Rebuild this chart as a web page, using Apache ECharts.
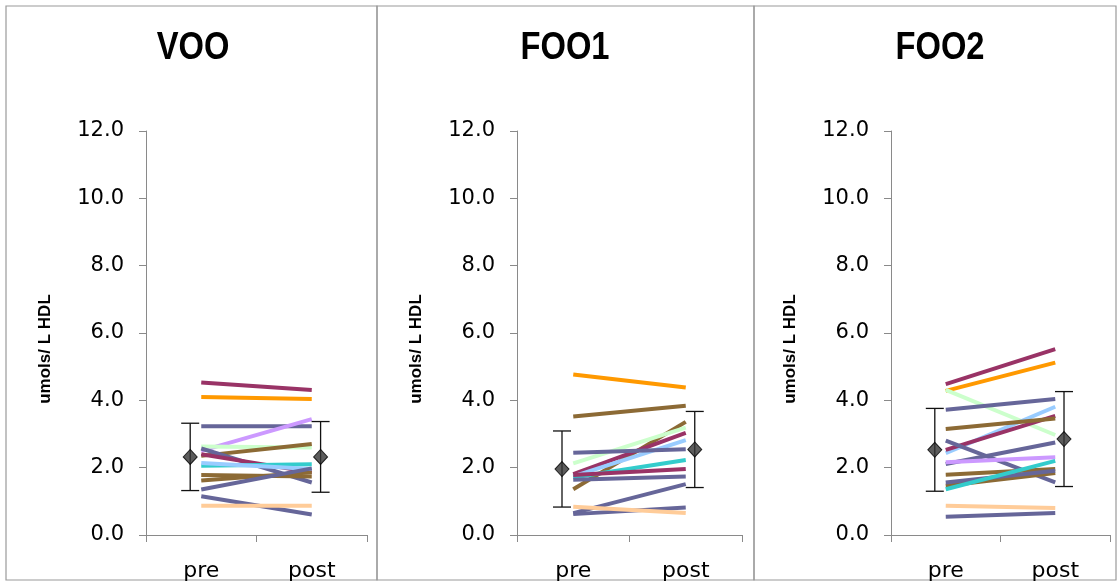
<!DOCTYPE html>
<html>
<head>
<meta charset="utf-8">
<script src="https://cdn.jsdelivr.net/npm/echarts@6/dist/echarts.min.js"></script>
<style>
  html, body { margin: 0; padding: 0; background: #fff; }
  #chart { width: 1117px; height: 587px; }
</style>
</head>
<body>
<div id="chart"></div>
<script>
// data
const categories = ['pre', 'post'];
const panelTitles = ['VOO', 'FOO1', 'FOO2'];
const yMin = 0, yMax = 12, yStep = 2;

const vooPre  = [4.53, 4.10, 3.23, 2.50, 2.63, 2.35, 2.57, 2.40, 2.06, 2.14, 1.78, 1.62, 1.35, 1.15, 0.87];
const vooPost = [4.31, 4.04, 3.23, 3.44, 2.60, 2.70, 1.56, 1.86, 2.10, 1.96, 1.74, 1.86, 1.98, 0.61, 0.87];
const vooMean = [2.32, 2.32];
const vooErr  = [1.00, 1.05];

const foo1Pre  = [4.77, 3.52, 1.36, 2.13, 1.81, 1.74, 2.44, 1.71, 1.78, 1.64, 0.65, 0.62, 0.84];
const foo1Post = [4.38, 3.84, 3.36, 3.19, 3.03, 2.82, 2.55, 2.23, 1.96, 1.74, 1.51, 0.82, 0.65];
const foo1Mean = [1.96, 2.54];
const foo1Err  = [1.13, 1.13];

const foo2Pre  = [4.48, 4.28, 4.31, 3.72, 2.43, 2.53, 3.15, 2.80, 2.11, 2.16, 1.79, 1.46, 1.56, 1.36, 0.87, 0.54];
const foo2Post = [5.52, 5.12, 2.97, 4.04, 3.81, 3.54, 3.46, 1.56, 2.75, 2.31, 1.96, 1.84, 1.91, 2.20, 0.80, 0.65];
const foo2Mean = [2.53, 2.85];
const foo2Err  = [1.23, 1.41];

// line colours (Excel style palette)
const C = {
  plum: '#993366', orange: '#FF9900', slate: '#666699', lav: '#CC99FF',
  green: '#CCFFCC', brown: '#8C6A35', teal: '#33CCCC', sky: '#99CCFF', peach: '#FFCC99'
};
const vooColors  = [C.plum, C.orange, C.slate, C.lav, C.green, C.brown, C.slate, C.plum, C.teal, C.sky, C.brown, C.brown, C.slate, C.slate, C.peach];
const foo1Colors = [C.orange, C.brown, C.brown, C.green, C.plum, C.sky, C.slate, C.teal, C.plum, C.slate, C.slate, C.slate, C.peach];
const foo2Colors = [C.plum, C.orange, C.green, C.slate, C.sky, C.plum, C.brown, C.slate, C.slate, C.lav, C.brown, C.brown, C.slate, C.teal, C.peach, C.slate];

// where the mean markers sit on the hidden 0..2 x scale
const meanX = [0.4, 1.58];

const panels = [
  { pre: vooPre, post: vooPost, mean: vooMean, err: vooErr, colors: vooColors, left: 146, width: 221, titleX: 193 },
  { pre: foo1Pre, post: foo1Post, mean: foo1Mean, err: foo1Err, colors: foo1Colors, left: 517, width: 225, titleX: 565 },
  { pre: foo2Pre, post: foo2Post, mean: foo2Mean, err: foo2Err, colors: foo2Colors, left: 891, width: 219, titleX: 940 }
];

const axisGray = '#8a8a8a';
const tickFont = 'DejaVu Sans';

let grid = [], xAxis = [], yAxis = [], series = [], graphic = [];

panels.forEach((p, i) => {
  grid.push({ left: p.left, top: 131, width: p.width, height: 404 });

  xAxis.push({
    type: 'category', gridIndex: i, data: categories, boundaryGap: true,
    axisLine: { lineStyle: { color: axisGray, width: 1 } },
    axisTick: { show: true, length: 7, alignWithLabel: false, lineStyle: { color: axisGray } },
    axisLabel: { color: '#000', fontSize: 22, fontFamily: tickFont, margin: 25 }
  });
  xAxis.push({ type: 'value', gridIndex: i, min: 0, max: 2, show: false });

  yAxis.push({
    type: 'value', gridIndex: i, min: yMin, max: yMax, interval: yStep,
    name: 'umols/ L HDL', nameLocation: 'middle', nameGap: 92,
    nameTextStyle: { fontFamily: 'Liberation Sans', fontWeight: 'bold', fontSize: 17, color: '#000',
      padding: [0, 32, 0, 0] },
    axisLine: { show: true, lineStyle: { color: axisGray, width: 1 } },
    axisTick: { show: true, length: 7, lineStyle: { color: axisGray } },
    splitLine: { show: false },
    axisLabel: { color: '#000', fontSize: 21, fontFamily: tickFont, margin: 22,
      formatter: v => v.toFixed(1) }
  });

  p.pre.forEach((v, k) => {
    series.push({
      type: 'line', xAxisIndex: i * 2, yAxisIndex: i,
      data: [v, p.post[k]], symbol: 'none', silent: true,
      lineStyle: { color: p.colors[k], width: 4 }
    });
  });

  const meanRows = p.mean.map((m, k) => [meanX[k], m, p.err[k]]);

  series.push({
    type: 'custom', xAxisIndex: i * 2 + 1, yAxisIndex: i, data: meanRows, z: 5,
    renderItem: (params, api) => {
      const x = api.value(0), m = api.value(1), e = api.value(2);
      const top = api.coord([x, m + e]);
      const bot = api.coord([x, m - e]);
      const cap = 9;
      const st = { stroke: '#111', lineWidth: 1.3 };
      return {
        type: 'group', children: [
          { type: 'line', shape: { x1: top[0], y1: top[1], x2: bot[0], y2: bot[1] }, style: st },
          { type: 'line', shape: { x1: top[0] - cap, y1: top[1], x2: top[0] + cap, y2: top[1] }, style: st },
          { type: 'line', shape: { x1: bot[0] - cap, y1: bot[1], x2: bot[0] + cap, y2: bot[1] }, style: st }
        ]
      };
    }
  });

  series.push({
    type: 'scatter', xAxisIndex: i * 2 + 1, yAxisIndex: i, z: 6,
    data: meanRows.map(r => [r[0], r[1]]),
    symbol: 'diamond', symbolSize: [14, 15],
    itemStyle: { color: '#333', borderColor: '#000', borderWidth: 1 }
  });

  graphic.push({
    type: 'text', x: p.titleX, y: 49, scaleX: 0.86,
    style: { text: panelTitles[i], textAlign: 'center', textVerticalAlign: 'middle',
      font: 'bold 38px "Liberation Sans", sans-serif', fill: '#000' }
  });
});

// panel frames
[[6, 377], [377, 754], [754, 1116]].forEach(([a, b]) => {
  graphic.push({
    type: 'rect', shape: { x: a, y: 6, width: b - a, height: 574 },
    style: { fill: 'none', stroke: '#9a9a9a', lineWidth: 1.2 }, silent: true, z: -1
  });
});

const myChart = echarts.init(document.getElementById('chart'));
myChart.setOption({
  backgroundColor: '#fff',
  animation: false,
  grid, xAxis, yAxis, series, graphic
});
</script>
</body>
</html>
